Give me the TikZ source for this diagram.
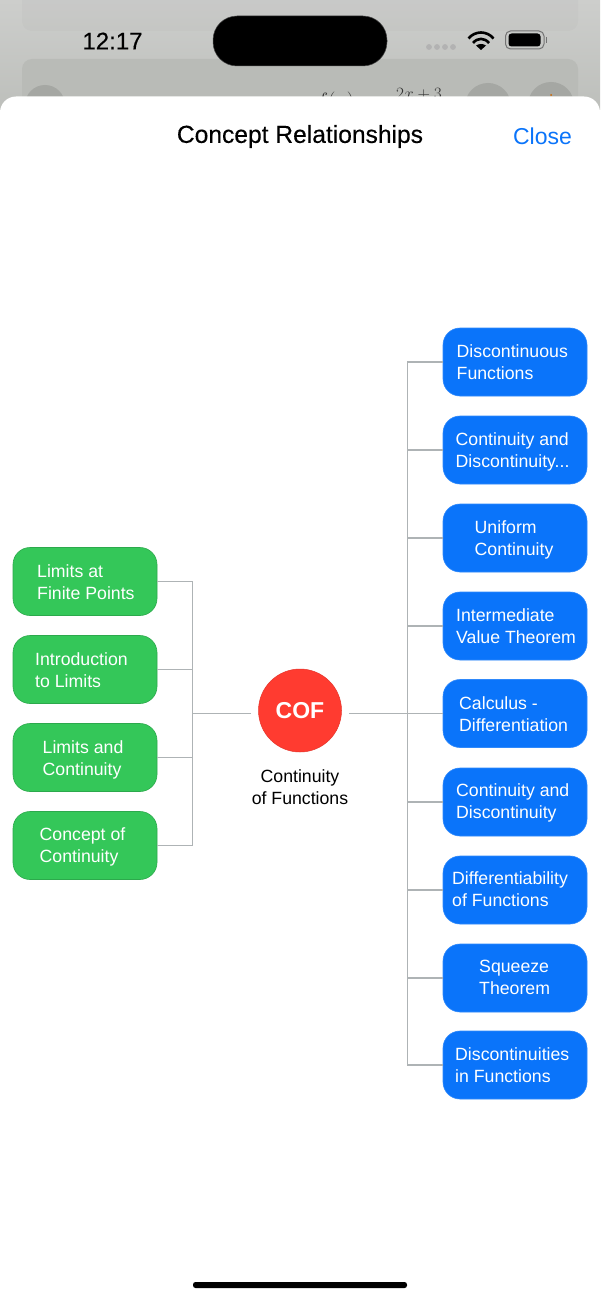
\documentclass[tikz,border=0pt]{standalone}
\usepackage{fontspec}
\setmainfont{Liberation Sans}
\newfontfamily\semib[FakeBold=0.35]{Liberation Sans}
\definecolor{bluebox}{HTML}{0A74FA}
\definecolor{greenbox}{HTML}{34C759}
\definecolor{redc}{HTML}{FF3B30}
\definecolor{linec}{HTML}{AEB3B5}
\definecolor{bgtop}{HTML}{CDCECC}
\definecolor{bgbot}{HTML}{BDBFBB}
\definecolor{panelc}{HTML}{B9BBB7}
\definecolor{circc}{HTML}{A5A7A3}
\tikzset{
  x=1pt,y=-1pt,
  conn/.style={draw=linec,line width=1.5pt},
  bluen/.style={draw=bluebox!85!white,fill=bluebox,rounded corners=17pt,minimum width=144pt,minimum height=68pt,inner sep=0pt,line width=.6pt},
  greenn/.style={draw=greenbox!85!black,fill=greenbox,rounded corners=17pt,minimum width=144pt,minimum height=68pt,inner sep=0pt,line width=.6pt},
  lblL/.style={text=white,align=left,font=\fontsize{17.7}{22}\selectfont,anchor=west,inner sep=0pt},
  wifi/.style={black,line width=2.6pt},
}
\begin{document}
\begin{tikzpicture}
\useasboundingbox (0,0) rectangle (600,1300);
\fill[white] (0,0) rectangle (600,1300);
\fill[top color=bgtop,bottom color=bgbot] (0,0) rectangle (600,110);
\fill[black,opacity=.02,rounded corners=10pt] (22,-20) rectangle (578,31);
\fill[panelc,rounded corners=10pt] (22,59) rectangle (578,130);
\foreach \cx/\cy/\r in {45/105/20,488/106/23,551/105/23} \fill[circc] (\cx,\cy) circle (\r pt);
\fill[orange!80!black] (551,95) circle (1pt);
\node[text=black!80,inner sep=0pt,anchor=north,font=\fontsize{20}{22}\selectfont] (fx) at (335,92) {$f(x)$};
\node[text=black!80,inner sep=0pt,anchor=north,font=\fontsize{16}{18}\selectfont] (frac) at (419,88.5) {$2x+3$};
\fill[white,rounded corners=16pt] (0,96.5) rectangle (600,1340);
\node[font=\semib\fontsize{24}{28}\selectfont,text=black,inner sep=0pt] (time) at (112.5,41) {12:17};
\node[fill=black,draw=black!70,line width=.5pt,rounded corners=24pt,minimum width=174pt,minimum height=50pt,inner sep=0pt] (island) at (300,41) {};
\foreach \xx in {429,437,445,453} \fill[black!30] (\xx,47) circle (2.9pt);
% wifi
\draw[wifi] (468.5,38.5) .. controls (475,30.5) and (487,30.5) .. (493.5,38.5);
\draw[wifi] (473,43) .. controls (477.5,37.5) and (484.5,37.5) .. (489,43);
\fill[black] (481,50) -- (476,45.5) .. controls (479,43.5) and (483,43.5) .. (486,45.5) -- cycle;
% battery
\draw[black!55,line width=1pt,rounded corners=5pt] (505.5,31) rectangle (544,49);
\fill[black,rounded corners=3pt] (508.5,33.5) rectangle (540.5,46.5);
\fill[black!55] (545.5,37) rectangle (547,43);
\node[font=\semib\fontsize{24.6}{28}\selectfont,text=black,inner sep=0pt] (title) at (300,136.5) {Concept Relationships};
\node[font=\fontsize{23}{26}\selectfont,text=bluebox,inner sep=0pt] (close) at (542.5,136) {Close};
\fill[black,rounded corners=2.5pt] (193,1282) rectangle (407,1288);

% centre
\node[circle,fill=redc,draw=redc!90!black,line width=.5pt,minimum size=83pt,inner sep=0pt,text=white,font=\bfseries\fontsize{23}{26}\selectfont] (cof) at (300,710.5) {COF};
\node[text=black,align=center,font=\fontsize{17.7}{22}\selectfont,inner sep=0pt] (cofl) at (300,787.5) {Continuity\\of Functions};

\coordinate (cl) at (251,713.5);
\coordinate (cr) at (349,713.5);
\coordinate (jl) at (192.5,713.5);
\coordinate (jr) at (407.5,713.5);

% left
\node[greenn] (g1) at (85,581.5) {};
\node[greenn] (g2) at (85,669.5) {};
\node[greenn] (g3) at (85,757.5) {};
\node[greenn] (g4) at (85,845.5) {};
\node[lblL] (tg1) at (37,582) {Limits at\\Finite Points};
\node[lblL] (tg2) at (35,670) {Introduction\\to Limits};
\node[lblL] (tg3) at (42.5,760) {Limits and\\Continuity};
\node[lblL] (tg4) at (39.5,847) {Concept of\\Continuity};

% right
\node[bluen] (b1) at (515,362) {};
\node[bluen] (b2) at (515,450) {};
\node[bluen] (b3) at (515,538) {};
\node[bluen] (b4) at (515,626) {};
\node[bluen] (b5) at (515,713.5) {};
\node[bluen] (b6) at (515,802) {};
\node[bluen] (b7) at (515,890) {};
\node[bluen] (b8) at (515,978) {};
\node[bluen] (b9) at (515,1065) {};
\node[lblL] (tb1) at (456.5,362.5) {Discontinuous\\Functions};
\node[lblL] (tb2) at (455.5,451.5) {Continuity and\\Discontinuity...};
\node[lblL] (tb3) at (474.5,540) {Uniform\\Continuity};
\node[lblL] (tb4) at (456,626.5) {Intermediate\\Value Theorem};
\node[lblL] (tb5) at (459,714.5) {Calculus -\\Differentiation};
\node[lblL] (tb6) at (456,802.5) {Continuity and\\Discontinuity};
\node[lblL] (tb7) at (452,889.5) {Differentiability\\of Functions};
\node[lblL] (tb8) at (479,977.5) {Squeeze\\Theorem};
\node[lblL] (tb9) at (455,1065.5) {Discontinuities\\in Functions};

% connectors
\draw[conn] (cl) -- (jl);
\draw[conn] (cr) -- (jr) -- (b5.west);
\draw[conn] (g1.east) -| (jl);
\draw[conn] (g2.east) -| (jl);
\draw[conn] (g3.east) -| (jl);
\draw[conn] (g4.east) -| (jl);
\foreach \n in {b1,b2,b3,b4,b6,b7,b8,b9} \draw[conn] (\n.west) -| (jr);
\end{tikzpicture}
\end{document}
